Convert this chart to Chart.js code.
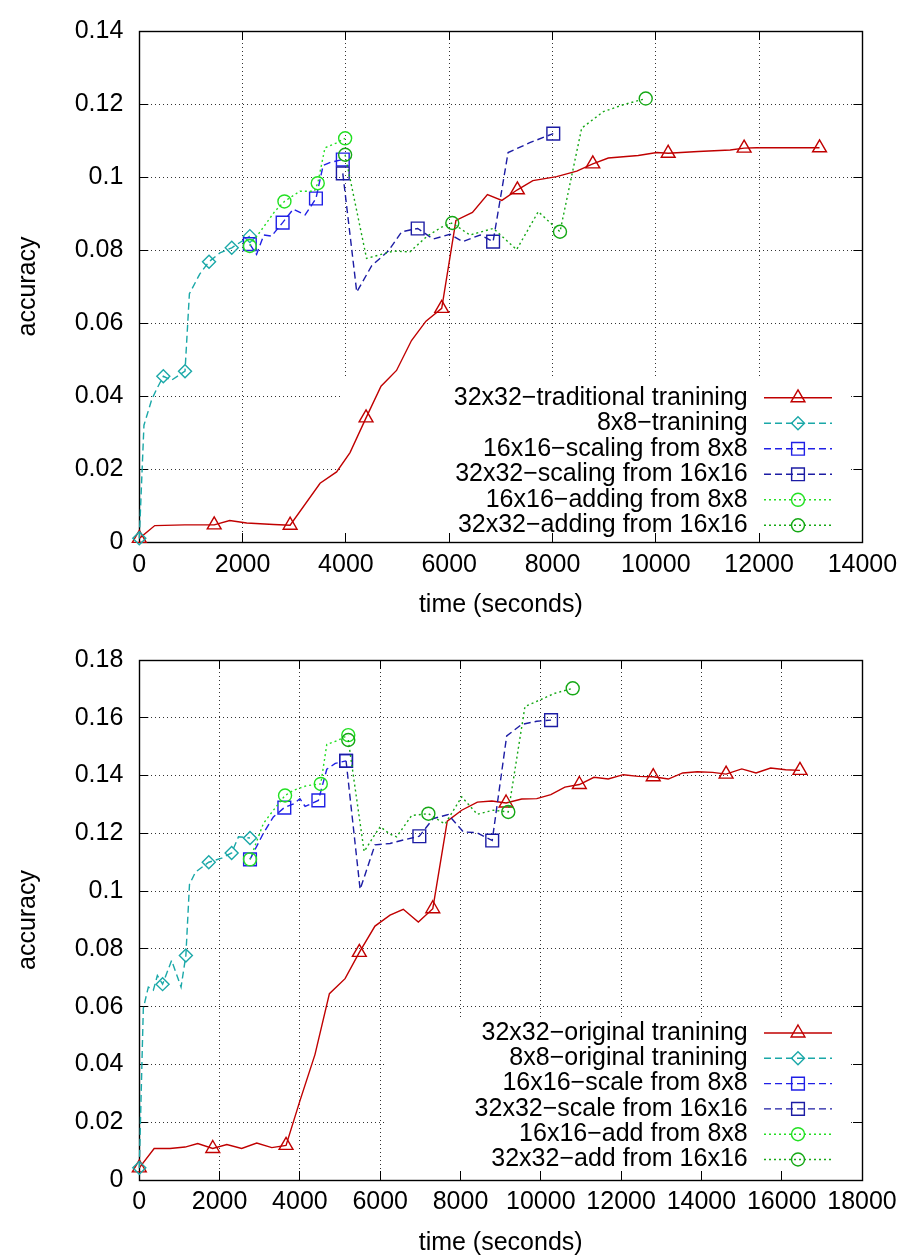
<!DOCTYPE html>
<html>
<head>
<meta charset="utf-8">
<script src="https://cdn.jsdelivr.net/npm/chart.js@4/dist/chart.umd.min.js"></script>
<style>
  body { margin: 0; background: #fff; }
  .wrap { position: absolute; left: 0; width: 908px; height: 629px; }
</style>
</head>
<body>
<div class="wrap" style="top:0"><canvas id="chartA" width="908" height="629"></canvas></div>
<div class="wrap" style="top:629px"><canvas id="chartB" width="908" height="629"></canvas></div>
<script>
// ---- top chart: [time, accuracy] ----
const a_trad32 = [[0,0.001],[300,0.0045],[880,0.0047],[1450,0.0047],[1750,0.0059],[2080,0.0052],[2600,0.0048],[2920,0.0046],[3500,0.0161],[3820,0.0192],[4080,0.0245],[4390,0.034],[4680,0.0427],[4980,0.047],[5270,0.0552],[5550,0.0605],[5855,0.064],[6130,0.0881],[6450,0.0903],[6740,0.0952],[7020,0.0936],[7320,0.0965],[7620,0.099],[8080,0.1001],[8470,0.1016],[8780,0.1036],[9080,0.1052],[9660,0.1059],[10020,0.1067],[10240,0.1065],[10820,0.107],[11440,0.1074],[11710,0.1079],[11950,0.108],[12600,0.108],[13170,0.108]];
const a_trad32_marks = [0,3,7,11,16,21,25,29,32,35];
const a_tr8 = [[0,0.001],[90,0.032],[240,0.039],[340,0.042],[465,0.0454],[620,0.0443],[885,0.0468],[970,0.068],[1170,0.0734],[1350,0.0768],[1560,0.0792],[1790,0.0806],[2140,0.0838]];
const a_tr8_marks = [0,4,6,9,11,12];
const a_sc16 = [[2140,0.0816],[2270,0.0788],[2410,0.0841],[2560,0.0838],[2775,0.0875],[2980,0.0912],[3210,0.0896],[3420,0.0941],[3560,0.1032],[3700,0.104],[3940,0.1048]];
const a_sc16_marks = [0,4,7,10];
const a_sc32 = [[3940,0.101],[4210,0.0685],[4500,0.0757],[4820,0.0797],[5080,0.085],[5390,0.0859],[5690,0.083],[6015,0.0843],[6260,0.0823],[6600,0.0841],[6850,0.0823],[7140,0.1067],[7560,0.1094],[8015,0.1119]];
const a_sc32_marks = [0,5,10,13];
const a_ad16 = [[2140,0.0811],[2630,0.0907],[2810,0.0933],[3110,0.0961],[3390,0.0961],[3455,0.0983],[3595,0.108],[3810,0.1093],[3985,0.1106]];
const a_ad16_marks = [0,2,5,8];
const a_ad32 = [[3985,0.1061],[4400,0.0777],[4660,0.0787],[4920,0.0797],[5240,0.0795],[5565,0.0837],[5855,0.0863],[6060,0.0874],[6400,0.0841],[6855,0.0859],[7305,0.0801],[7725,0.0905],[8145,0.085],[8565,0.1134],[8985,0.1179],[9370,0.1198],[9805,0.1215]];
const a_ad32_marks = [0,7,12,16];
const a_names = ["32x32−traditional tranining", "8x8−tranining", "16x16−scaling from 8x8", "32x32−scaling from 16x16", "16x16−adding from 8x8", "32x32−adding from 16x16"];

// ---- bottom chart ----
const b_trad32 = [[0,0.0042],[370,0.0109],[765,0.0109],[1140,0.0114],[1455,0.0126],[1830,0.0109],[2180,0.0123],[2550,0.0109],[2925,0.0128],[3300,0.0112],[3655,0.012],[4000,0.0274],[4375,0.0434],[4735,0.0645],[5125,0.0697],[5480,0.0788],[5870,0.0879],[6245,0.0917],[6575,0.0937],[6950,0.0893],[7310,0.0939],[7670,0.1242],[8030,0.128],[8420,0.1308],[8780,0.1312],[9135,0.1305],[9525,0.1319],[9900,0.132],[10250,0.1334],[10600,0.136],[10960,0.1369],[11325,0.1394],[11680,0.1388],[12055,0.1403],[12430,0.1397],[12800,0.1396],[13175,0.1388],[13535,0.1409],[13900,0.1413],[14280,0.1411],[14615,0.1405],[15005,0.1423],[15360,0.1409],[15725,0.1426],[16100,0.142],[16455,0.1418]];
const b_trad32_marks = [0,5,10,15,20,25,30,35,40,45];
const b_tr8 = [[0,0.0042],[100,0.0594],[225,0.0668],[350,0.0657],[450,0.0708],[580,0.0678],[805,0.076],[1040,0.0668],[1160,0.0777],[1250,0.1023],[1400,0.1066],[1730,0.11],[2050,0.1114],[2300,0.1132],[2470,0.1188],[2757,0.1184]];
const b_tr8_marks = [0,5,8,11,13,15];
const b_sc16 = [[2757,0.111],[3090,0.12],[3340,0.1257],[3612,0.1289],[3840,0.1302],[4000,0.132],[4130,0.1293],[4460,0.1314],[4670,0.1422],[4880,0.1442],[5150,0.1451]];
const b_sc16_marks = [0,3,7,10];
const b_sc32 = [[5150,0.1451],[5500,0.1006],[5870,0.116],[6245,0.1165],[6575,0.1177],[6975,0.119],[7320,0.1251],[7695,0.1265],[8070,0.1205],[8405,0.1202],[8790,0.1175],[9150,0.1537],[9525,0.1577],[9900,0.1588],[10255,0.1592]];
const b_sc32_marks = [0,5,10,14];
const b_ad16 = [[2757,0.111],[3090,0.1234],[3340,0.128],[3630,0.1331],[3840,0.1349],[4170,0.1365],[4520,0.1371],[4670,0.1508],[4915,0.152],[5205,0.154]];
const b_ad16_marks = [0,3,6,9];
const b_ad32 = [[5205,0.1523],[5600,0.1137],[5830,0.1188],[6000,0.1223],[6245,0.1197],[6410,0.1188],[6785,0.1262],[7200,0.1268],[7615,0.1232],[8030,0.1326],[8420,0.1266],[8815,0.128],[9190,0.1274],[9605,0.1639],[9980,0.1662],[10355,0.1685],[10795,0.1702]];
const b_ad32_marks = [0,7,12,16];
const b_names = ["32x32−original tranining", "8x8−original tranining", "16x16−scale from 8x8", "32x32−scale from 16x16", "16x16−add from 8x8", "32x32−add from 16x16"];

const RED = '#c00000', CYAN = '#1aa8a8', BLUE1 = '#2020e6', BLUE2 = '#1c1ca4', GREEN1 = '#22e022', GREEN2 = '#15a815';
const DASH = [7, 4], DOT = [2, 3];
const FONT = {family: 'Liberation Sans', size: 25};

function series(pts, marks, color, dash, style, r, i) {
  return {
    data: pts.map(p => ({x: p[0], y: p[1]})),
    showLine: true,
    borderColor: color,
    borderWidth: 1.4,
    borderDash: dash,
    pointStyle: style,
    pointBorderColor: color,
    pointBackgroundColor: 'rgba(0,0,0,0)',
    pointBorderWidth: 1.4,
    pointRadius: c => marks.includes(c.dataIndex) ? r : 0,
    pointHoverRadius: 0,
    tension: 0,
    clip: false,
    order: -i,
    markR: r
  };
}

function drawMark(ctx, style, r, x, y) {
  ctx.beginPath();
  if (style === 'circle') ctx.arc(x, y, r, 0, Math.PI * 2);
  else if (style === 'rect') { const s = r * Math.SQRT1_2; ctx.rect(x - s, y - s, 2 * s, 2 * s); }
  else if (style === 'rectRot') { ctx.moveTo(x - r, y); ctx.lineTo(x, y - r); ctx.lineTo(x + r, y); ctx.lineTo(x, y + r); ctx.closePath(); }
  else if (style === 'triangle') { ctx.moveTo(x, y - r); ctx.lineTo(x + r * 0.866, y + r / 2); ctx.lineTo(x - r * 0.866, y + r / 2); ctx.closePath(); }
  ctx.stroke();
}

const frame = {
  id: 'frame',
  beforeDatasetsDraw(chart, args, o) {
    const {ctx, chartArea: a, scales: {x, y}} = chart;
    const al = p => Math.round(p - 0.5) + 0.5;
    ctx.save();
    ctx.fillStyle = '#fff';
    ctx.fillRect(o.box[0], o.box[1], o.box[2] - o.box[0], o.box[3] - o.box[1]);
    ctx.strokeStyle = '#000';
    ctx.lineWidth = 1;
    ctx.beginPath();
    x.ticks.forEach(t => {
      const p = al(x.getPixelForValue(t.value));
      ctx.moveTo(p, a.bottom); ctx.lineTo(p, a.bottom - 9);
      ctx.moveTo(p, a.top); ctx.lineTo(p, a.top + 9);
    });
    y.ticks.forEach(t => {
      const p = al(y.getPixelForValue(t.value));
      ctx.moveTo(a.left, p); ctx.lineTo(a.left + 9, p);
      ctx.moveTo(a.right, p); ctx.lineTo(a.right - 9, p);
    });
    ctx.stroke();
    ctx.lineWidth = 1.4;
    ctx.strokeRect(al(a.left), al(a.top), Math.round(a.right - a.left), Math.round(a.bottom - a.top));
    ctx.restore();
  },
  afterDatasetsDraw(chart, args, o) {
    const ctx = chart.ctx;
    ctx.save();
    ctx.font = FONT.size + 'px "' + FONT.family + '"';
    ctx.textAlign = 'right';
    ctx.textBaseline = 'middle';
    o.names.forEach((name, i) => {
      const ds = chart.data.datasets[i];
      const yy = o.row0 + i * o.rowGap;
      ctx.fillStyle = '#000';
      ctx.fillText(name, o.textRight, yy);
      ctx.strokeStyle = ds.borderColor;
      ctx.lineWidth = ds.borderWidth;
      ctx.setLineDash(ds.borderDash);
      ctx.beginPath();
      ctx.moveTo(o.sample[0], yy); ctx.lineTo(o.sample[1], yy);
      ctx.stroke();
      ctx.setLineDash([]);
      drawMark(ctx, ds.pointStyle, ds.markR, o.sample[2], yy);
    });
    ctx.restore();
  }
};

function makeChart(id, sets, xMax, yMax, pad, xH, xTickPad, xTitlePad, key) {
  return new Chart(document.getElementById(id), {
    type: 'scatter',
    data: {datasets: sets},
    plugins: [frame],
    options: {
      responsive: false,
      animation: false,
      events: [],
      layout: {padding: pad},
      scales: {
        x: {
          type: 'linear', min: 0, max: xMax,
          afterFit: s => { s.height = xH; },
          grid: {color: 'rgba(0,0,0,0.8)', lineWidth: 1, drawTicks: false},
          border: {display: false, dash: [1, 3]},
          ticks: {stepSize: 2000, autoSkip: false, maxRotation: 0, padding: xTickPad, color: '#000', font: FONT,
                  callback: v => String(v)},
          title: {display: true, text: 'time (seconds)', color: '#000', font: FONT, padding: {top: 0, bottom: xTitlePad}}
        },
        y: {
          type: 'linear', min: 0, max: yMax,
          afterFit: s => { s.width = 139.3; },
          grid: {color: 'rgba(0,0,0,0.8)', lineWidth: 1, drawTicks: false},
          border: {display: false, dash: [1, 3]},
          ticks: {stepSize: 0.02, padding: 16, color: '#000', font: FONT,
                  callback: v => String(Math.round(v * 100) / 100)},
          title: {display: true, text: 'accuracy', color: '#000', font: FONT, padding: {top: 13.5, bottom: 0}}
        }
      },
      plugins: {
        legend: {display: false},
        tooltip: {enabled: false},
        frame: key
      }
    }
  });
}

makeChart('chartA', [
  series(a_trad32, a_trad32_marks, RED, [], 'triangle', 8, 0),
  series(a_tr8, a_tr8_marks, CYAN, DASH, 'rectRot', 6.5, 1),
  series(a_sc16, a_sc16_marks, BLUE1, DASH, 'rect', 9, 2),
  series(a_sc32, a_sc32_marks, BLUE2, DASH, 'rect', 9, 3),
  series(a_ad16, a_ad16_marks, GREEN1, DOT, 'circle', 6.5, 4),
  series(a_ad32, a_ad32_marks, GREEN2, DOT, 'circle', 6.5, 5)
], 14000, 0.14, {top: 17.3, right: 45.6, bottom: 0, left: 0}, 87, 8, 9,
  {box: [342, 378, 848, 541], names: a_names, row0: 397.8, rowGap: 25.5, textRight: 747.7, sample: [764, 832, 798]});

makeChart('chartB', [
  series(b_trad32, b_trad32_marks, RED, [], 'triangle', 8, 0),
  series(b_tr8, b_tr8_marks, CYAN, DASH, 'rectRot', 6.5, 1),
  series(b_sc16, b_sc16_marks, BLUE1, DASH, 'rect', 9, 2),
  series(b_sc32, b_sc32_marks, BLUE2, DASH, 'rect', 9, 3),
  series(b_ad16, b_ad16_marks, GREEN1, DOT, 'circle', 6.5, 4),
  series(b_ad32, b_ad32_marks, GREEN2, DOT, 'circle', 6.5, 5)
], 18000, 0.18, {top: 26, right: 46, bottom: 0, left: 0}, 78, 7, 0,
  {box: [385, 390, 848, 550], names: b_names, row0: 404, rowGap: 25.3, textRight: 747.7, sample: [764, 832, 798]});
</script>
</body>
</html>
